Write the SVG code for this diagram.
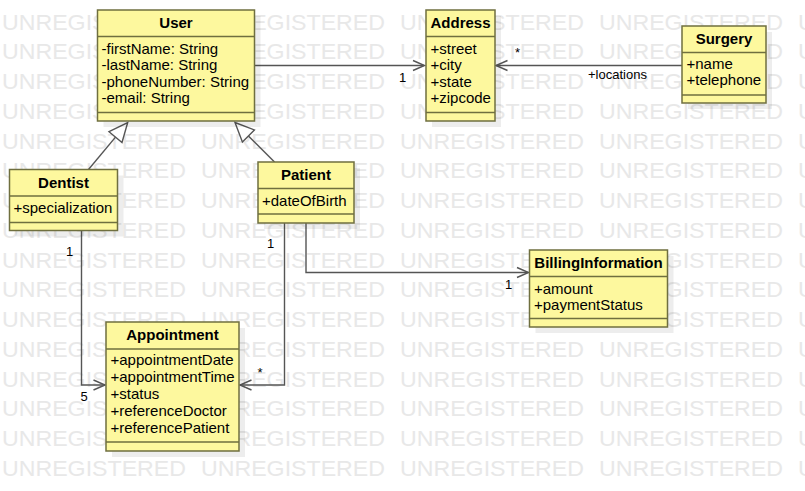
<svg xmlns="http://www.w3.org/2000/svg" width="805" height="491" viewBox="0 0 805 491">
<style>
text{font-family:"Liberation Sans",Arial,sans-serif;fill:#000}
.wm{font-size:22px;fill:#e8e8e8}
.box{fill:#fdf89e;stroke:#6f6f3f;stroke-width:1.5}
.sep{stroke:#6f6f3f;stroke-width:1.5}
.sh{fill:#000;opacity:0.07}
.t{font-size:15px;font-weight:bold;text-anchor:middle}
.a{font-size:15px}
.c{fill:none;stroke:#555;stroke-width:1.4}
.tri{fill:#fff;stroke:#555;stroke-width:1.4}
.l{font-size:13px}
</style>
<defs>
<g id="wm">
<text class="wm" x="2" y="0" textLength="184" lengthAdjust="spacingAndGlyphs">UNREGISTERED</text>
<text class="wm" x="201" y="0" textLength="184" lengthAdjust="spacingAndGlyphs">UNREGISTERED</text>
<text class="wm" x="400" y="0" textLength="184" lengthAdjust="spacingAndGlyphs">UNREGISTERED</text>
<text class="wm" x="599" y="0" textLength="184" lengthAdjust="spacingAndGlyphs">UNREGISTERED</text>
<text class="wm" x="798" y="0" textLength="184" lengthAdjust="spacingAndGlyphs">UNREGISTERED</text>
</g>
</defs>
<rect width="805" height="491" fill="#fff"/>
<g id="watermark">
<use href="#wm" y="29.5"/><use href="#wm" y="59.3"/><use href="#wm" y="89"/><use href="#wm" y="118.8"/>
<use href="#wm" y="148.5"/><use href="#wm" y="178.3"/><use href="#wm" y="208"/><use href="#wm" y="237.8"/>
<use href="#wm" y="267.5"/><use href="#wm" y="297.3"/><use href="#wm" y="327"/><use href="#wm" y="356.8"/>
<use href="#wm" y="386.5"/><use href="#wm" y="416.3"/><use href="#wm" y="446"/><use href="#wm" y="475.8"/>
</g>
<g id="connectors">
<path class="c" d="M254.5 65.5H424"/>
<path class="c" d="M413 60.5L424.5 65.5L413 70.5"/>
<path class="c" d="M682 65.5H496"/>
<path class="c" d="M507.5 60.5L496 65.5L507.5 70.5"/>
<path class="c" d="M88.5 169.5L115.5 137.1"/>
<polygon class="tri" points="127.7,122.5 122,142.5 109,131.7"/>
<path class="c" d="M274.5 162L248.4 135.9"/>
<polygon class="tri" points="235,122.5 254.4,129.9 242.4,141.9"/>
<path class="c" d="M306 223V272.5H528.5"/>
<path class="c" d="M517 267.5L528.5 272.5L517 277.5"/>
<path class="c" d="M284.5 223V385H240"/>
<path class="c" d="M251.5 380L240 385L251.5 390"/>
<path class="c" d="M81.5 231V385H105"/>
<path class="c" d="M93.5 380L105 385L93.5 390"/>
<text class="l" x="399" y="82">1</text>
<text class="l" x="515" y="57">*</text>
<text class="l" x="588" y="79">+locations</text>
<text class="l" x="66" y="256">1</text>
<text class="l" x="80.5" y="401">5</text>
<text class="l" x="267" y="247.5">1</text>
<text class="l" x="505" y="288.5">1</text>
<text class="l" x="257.5" y="376.5">*</text>
</g>
<g id="user">
<rect class="sh" x="103.5" y="16" width="157" height="111"/>
<rect class="box" x="97.5" y="10" width="157" height="111"/>
<path class="sep" d="M97.5 36.5H254.5M97.5 112.5H254.5"/>
<text class="t" x="176" y="28">User</text>
<text class="a" x="101.5" y="53.5">-firstName: String</text>
<text class="a" x="101.5" y="70">-lastName: String</text>
<text class="a" x="101.5" y="86.5">-phoneNumber: String</text>
<text class="a" x="101.5" y="103">-email: String</text>
</g>
<g id="address">
<rect class="sh" x="432" y="16" width="69" height="111"/>
<rect class="box" x="426" y="10" width="69" height="111"/>
<path class="sep" d="M426 36.5H495M426 112.5H495"/>
<text class="t" x="460.5" y="28">Address</text>
<text class="a" x="430.5" y="53.5">+street</text>
<text class="a" x="430.5" y="70">+city</text>
<text class="a" x="430.5" y="86.5">+state</text>
<text class="a" x="430.5" y="103">+zipcode</text>
</g>
<g id="surgery">
<rect class="sh" x="688" y="32" width="84" height="77"/>
<rect class="box" x="682" y="26" width="84" height="77"/>
<path class="sep" d="M682 52.5H766M682 95H766"/>
<text class="t" x="724" y="44">Surgery</text>
<text class="a" x="686.5" y="68.5">+name</text>
<text class="a" x="686.5" y="85">+telephone</text>
</g>
<g id="dentist">
<rect class="sh" x="15.5" y="175.5" width="108" height="61"/>
<rect class="box" x="9.5" y="169.5" width="108" height="61"/>
<path class="sep" d="M9.5 196H117.5M9.5 222.5H117.5"/>
<text class="t" x="63.5" y="187.5">Dentist</text>
<text class="a" x="13.5" y="213">+specialization</text>
</g>
<g id="patient">
<rect class="sh" x="264" y="168" width="96" height="61"/>
<rect class="box" x="258" y="162" width="96" height="61"/>
<path class="sep" d="M258 188.5H354M258 214H354"/>
<text class="t" x="306" y="180">Patient</text>
<text class="a" x="262" y="205.5">+dateOfBirth</text>
</g>
<g id="billing">
<rect class="sh" x="535.5" y="256" width="138" height="77"/>
<rect class="box" x="529.5" y="250" width="138" height="77"/>
<path class="sep" d="M529.5 276.5H667.5M529.5 318.5H667.5"/>
<text class="t" x="598.5" y="268">BillingInformation</text>
<text class="a" x="534" y="293.5">+amount</text>
<text class="a" x="534" y="310">+paymentStatus</text>
</g>
<g id="appointment">
<rect class="sh" x="112" y="328" width="133" height="129"/>
<rect class="box" x="106" y="322" width="133" height="129"/>
<path class="sep" d="M106 349H239M106 442H239"/>
<text class="t" x="172.5" y="340">Appointment</text>
<text class="a" x="110.5" y="365">+appointmentDate</text>
<text class="a" x="110.5" y="382">+appointmentTime</text>
<text class="a" x="110.5" y="399">+status</text>
<text class="a" x="110.5" y="416">+referenceDoctor</text>
<text class="a" x="110.5" y="433">+referencePatient</text>
</g>
</svg>
